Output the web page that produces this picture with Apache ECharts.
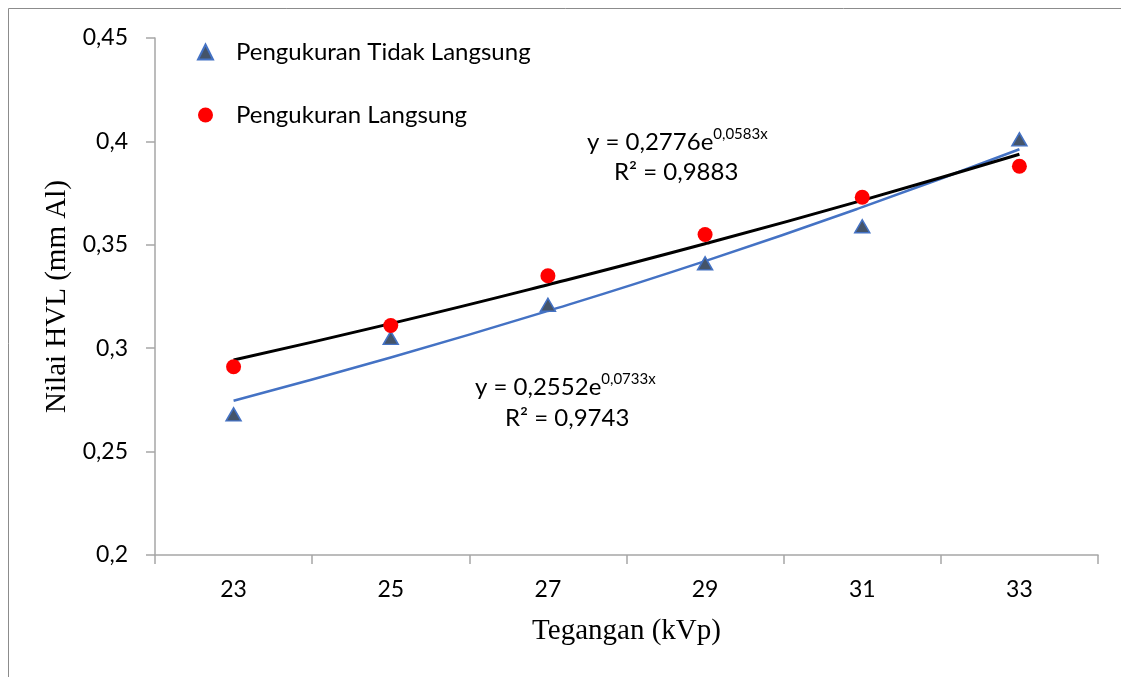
<!DOCTYPE html>
<html>
<head>
<meta charset="utf-8">
<script src="https://cdn.jsdelivr.net/npm/echarts@6/dist/echarts.min.js"></script>
<style>
  html, body { margin: 0; padding: 0; background: #fff; }
  #chart { width: 1121px; height: 677px; }
</style>
</head>
<body>
<div id="chart"></div>
<script>
// data
var kategori = ['23', '25', '27', '29', '31', '33'];
var tidakLangsung = [0.268, 0.305, 0.321, 0.341, 0.359, 0.401];
var langsung = [0.291, 0.311, 0.335, 0.355, 0.373, 0.388];
// trendline (eksponensial)
var trenTidakLangsung = [0.2746, 0.2955, 0.3180, 0.3421, 0.3682, 0.3962];
var trenLangsung = [0.2943, 0.3119, 0.3307, 0.3505, 0.3715, 0.3938];
var yTicks = [0.2, 0.25, 0.3, 0.35, 0.4, 0.45];

var chart = echarts.init(document.getElementById('chart'));
var labelFont = 'Lato, "Liberation Sans", sans-serif';

var option = {
    animation: false,
    grid: {
        left: 155,
        right: 23,
        top: 38,
        bottom: 122
    },
    legend: {
        orient: 'vertical',
        left: 192,
        top: 35,
        itemGap: 39,
        itemWidth: 15,
        itemHeight: 15,
        textStyle: {color: '#000', fontSize: 24, lineHeight: 24, fontFamily: labelFont, padding: [0, 0, 0, 18]},
        data: ['Pengukuran Tidak Langsung', 'Pengukuran Langsung']
    },
    xAxis: {
        type: 'category',
        data: kategori,
        boundaryGap: true,
        name: 'Tegangan (kVp)',
        nameLocation: 'middle',
        nameGap: 62,
        nameTextStyle: {color: '#000', fontSize: 29, fontFamily: '"Liberation Serif", serif'},
        axisLine: {lineStyle: {color: '#a6a6a6', width: 1.5}},
        axisTick: {show: true, length: 9, alignWithLabel: false, lineStyle: {color: '#a6a6a6', width: 1.5}},
        axisLabel: {color: '#000', fontSize: 23, fontFamily: labelFont, margin: 23},
        splitLine: {show: false}
    },
    yAxis: {
        type: 'value',
        min: 0.2,
        max: 0.45,
        interval: 0.05,
        name: 'Nilai HVL (mm Al)',
        nameLocation: 'middle',
        nameGap: 79,
        nameTextStyle: {color: '#000', fontSize: 29, fontFamily: '"Liberation Serif", serif'},
        axisLine: {show: true, lineStyle: {color: '#a6a6a6', width: 1.5}},
        axisTick: {show: true, length: 9, lineStyle: {color: '#a6a6a6', width: 1.5}},
        axisLabel: {
            color: '#000', fontSize: 23, fontFamily: labelFont, margin: 27,
            formatter: function (v) {
                for (var i = 0; i < yTicks.length; i++) {
                    if (Math.abs(v - yTicks[i]) < 1e-9) return String(yTicks[i]).replace('.', ',');
                }
                return '';
            }
        },
        splitLine: {show: false}
    },
    series: [
        {
            name: 'tren tidak langsung',
            type: 'line',
            data: trenTidakLangsung,
            smooth: true,
            symbol: 'none',
            lineStyle: {color: '#4472C4', width: 2.5},
            z: 2
        },
        {
            name: 'tren langsung',
            type: 'line',
            data: trenLangsung,
            smooth: true,
            symbol: 'none',
            lineStyle: {color: '#000', width: 3},
            z: 3
        },
        {
            name: 'Pengukuran Tidak Langsung',
            type: 'scatter',
            data: tidakLangsung,
            symbol: 'triangle',
            symbolSize: [15, 13],
            itemStyle: {color: '#44546A', borderColor: '#4472C4', borderWidth: 1.5, opacity: 1},
            z: 4
        },
        {
            name: 'Pengukuran Langsung',
            type: 'scatter',
            data: langsung,
            symbol: 'circle',
            symbolSize: 15,
            itemStyle: {color: '#FF0000', opacity: 1},
            z: 4
        }
    ],
    graphic: [
        {
            type: 'rect',
            shape: {x: 8.5, y: 8.5, width: 1200, height: 800},
            style: {fill: 'none', stroke: '#8c8c8c', lineWidth: 1},
            silent: true
        },
        {
            type: 'text',
            left: 587,
            top: 127,
            style: {
                text: '{a|y = 0,2776e}{b|0,0583x}',
                rich: {
                    a: {fontSize: 24, fontFamily: labelFont, fill: '#000', verticalAlign: 'bottom'},
                    b: {fontSize: 15, fontFamily: labelFont, fill: '#000', verticalAlign: 'top', padding: [0, 0, 12, 0]}
                }
            }
        },
        {
            type: 'text',
            left: 614,
            top: 160,
            style: {text: 'R² = 0,9883', fontSize: 24, fontFamily: labelFont, fill: '#000'}
        },
        {
            type: 'text',
            left: 475,
            top: 372,
            style: {
                text: '{a|y = 0,2552e}{b|0,0733x}',
                rich: {
                    a: {fontSize: 24, fontFamily: labelFont, fill: '#000', verticalAlign: 'bottom'},
                    b: {fontSize: 15, fontFamily: labelFont, fill: '#000', verticalAlign: 'top', padding: [0, 0, 12, 0]}
                }
            }
        },
        {
            type: 'text',
            left: 505,
            top: 406,
            style: {text: 'R² = 0,9743', fontSize: 24, fontFamily: labelFont, fill: '#000'}
        }
    ]
};

chart.setOption(option);
</script>
</body>
</html>
